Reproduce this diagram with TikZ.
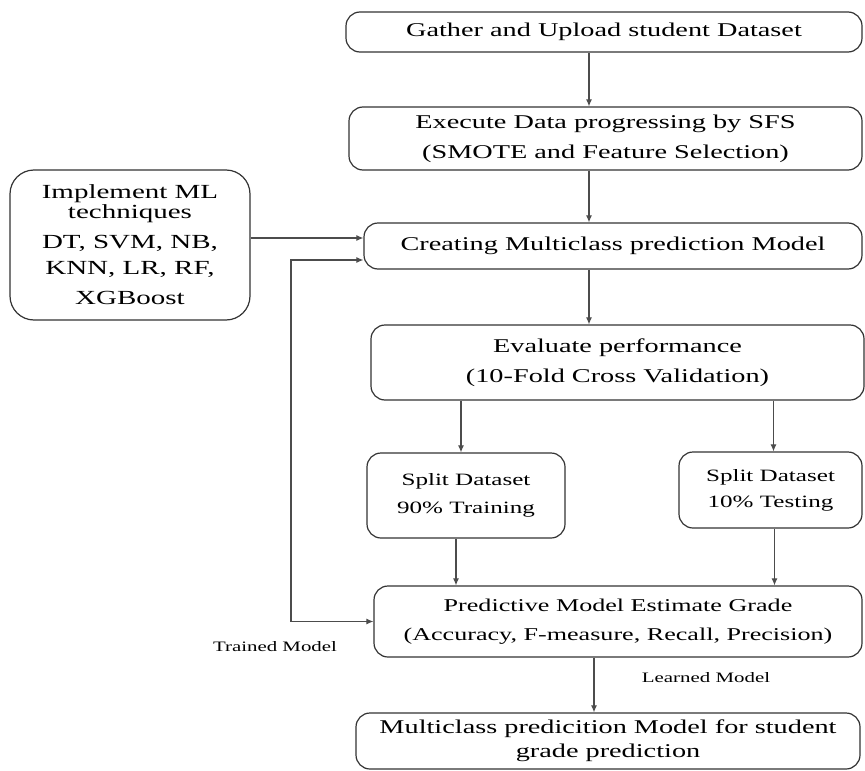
\documentclass[tikz,border=0pt]{standalone}
\usepackage{fontspec}
\setmainfont{Liberation Serif}[FakeStretch=1.45]
\usetikzlibrary{arrows.meta}

\begin{document}
\begin{tikzpicture}[x=1pt, y=-1pt,
    caja/.style={draw=black!80, line width=1.2pt, rounded corners=14pt, align=center,
      inner sep=0pt, text=black, font=\fontsize{19.5}{30}\selectfont},
    chica/.style={font=\fontsize{17.3}{28}\selectfont},
    flecha/.style={-{Latex[length=7pt,width=6pt]}, draw=black!70, line width=1.1pt},
    etiqueta/.style={font=\fontsize{14.4}{17}\selectfont, text=black}]
    \useasboundingbox (0,0) rectangle (865,771);

    % Cajas del flujo principal
    \node[caja, minimum width=516pt, minimum height=40pt] (gather) at (604,32) {Gather and Upload student Dataset};
    \node[caja, minimum width=513pt, minimum height=63pt] (execute) at (605.5,138.5) {Execute Data progressing by SFS\\ (SMOTE and Feature Selection)};
    \node[caja, minimum width=498pt, minimum height=46pt] (creating) at (613,246) {Creating Multiclass prediction Model};
    \node[caja, minimum width=493pt, minimum height=75pt] (evaluate) at (617.5,362.5) {Evaluate performance\\ (10-Fold Cross Validation)};

    % Caja de tecnicas
    \node[caja, rounded corners=24pt, font=\fontsize{20}{30}\selectfont, minimum width=240pt, minimum height=150pt] (implement) at (130,245)
      {Implement ML\\[-10pt] techniques\\ DT, SVM, NB,\\[-4pt] KNN, LR, RF,\\ XGBoost};

    % Particion del dataset
    \node[caja, chica, minimum width=198pt, minimum height=85pt] (split90) at (466,495.5) {Split Dataset\\ 90\% Training};
    \node[caja, chica, minimum width=183pt, minimum height=76pt] (split10) at (770.5,490) {Split Dataset\\[-2pt] 10\% Testing};

    % Estimacion y modelo final
    \node[caja, font=\fontsize{18}{29}\selectfont, minimum width=488pt, minimum height=71pt] (predictive) at (618,621.5)
      {Predictive Model Estimate Grade\\ (Accuracy, F-measure, Recall, Precision)};
    \node[caja, minimum width=504pt, minimum height=56pt] (multiclass) at (608,741)
      {Multiclass predicition Model for student\\[-6pt] grade prediction};

    % Etiquetas
    \node[etiqueta] (trained) at (275,647) {Trained Model};
    \node[etiqueta] (learned) at (706,678) {Learned Model};

    % Flechas verticales
    \coordinate (eje) at ([xshift=-24pt]creating.south);
    \draw[flecha] (gather.south -| eje) -- (execute.north -| eje);
    \draw[flecha] (execute.south -| eje) -- (creating.north -| eje);
    \draw[flecha] (creating.south -| eje) -- (evaluate.north -| eje);
    \coordinate (e1) at ([xshift=-5pt]split90.north);
    \coordinate (e2) at ([xshift=3pt]split10.north);
    \draw[flecha] (evaluate.south -| e1) -- (e1);
    \draw[flecha] (evaluate.south -| e2) -- (e2);
    \draw[flecha] ([xshift=-10pt]split90.south) coordinate (s1) -- (s1 |- predictive.north);
    \draw[flecha] ([xshift=4pt]split10.south) coordinate (s2) -- (s2 |- predictive.north);
    \draw[flecha] ([xshift=-24pt]predictive.south) coordinate (s3) -- (s3 |- multiclass.north);

    % Entradas a la caja de creacion
    \coordinate (arriba) at ([yshift=8pt]creating.west);
    \coordinate (abajo) at ([yshift=-14pt]creating.west);
    \coordinate (retro) at (291,0);
    \draw[flecha] (implement.east |- arriba) -- (arriba);
    \draw[flecha, {Latex[length=7pt,width=6pt]}-{Latex[length=7pt,width=6pt]}] (predictive.west) -- (predictive.west -| retro) |- (abajo);

\end{tikzpicture}
\end{document}
